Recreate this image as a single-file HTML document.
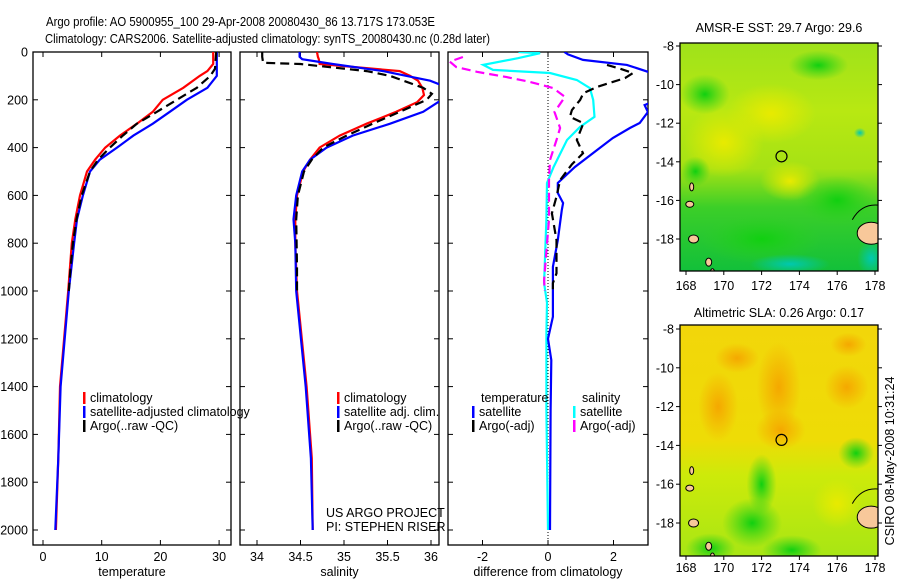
<!DOCTYPE html>
<html><head><meta charset="utf-8"><style>
body{margin:0;background:#fff}
svg{display:block;font-family:"Liberation Sans",sans-serif}
</style></head><body>
<svg id="fig" width="900" height="580" viewBox="0 0 900 580" xmlns="http://www.w3.org/2000/svg">
<defs>
<linearGradient id="g1" x1="0" y1="0" x2="0" y2="1">
<stop offset="0" stop-color="#9fe21a"/><stop offset="0.3" stop-color="#b8e812"/><stop offset="0.55" stop-color="#a6e214"/><stop offset="0.72" stop-color="#3ccf28"/><stop offset="1" stop-color="#12c03a"/></linearGradient>
<linearGradient id="g2" x1="0" y1="0" x2="0" y2="1">
<stop offset="0" stop-color="#f2d60a"/><stop offset="0.5" stop-color="#eedc06"/><stop offset="0.65" stop-color="#cdea0a"/><stop offset="1" stop-color="#a8e614"/></linearGradient>
<radialGradient id="or"><stop offset="0" stop-color="#f5a800"/><stop offset="1" stop-color="#f5a800" stop-opacity="0"/></radialGradient>
<radialGradient id="gr"><stop offset="0" stop-color="#10d010"/><stop offset="1" stop-color="#30d020" stop-opacity="0"/></radialGradient>
<radialGradient id="ye"><stop offset="0" stop-color="#e8ea00"/><stop offset="1" stop-color="#e8ea00" stop-opacity="0"/></radialGradient>
<radialGradient id="cy"><stop offset="0" stop-color="#00c8b0"/><stop offset="1" stop-color="#00c8b0" stop-opacity="0"/></radialGradient>
<clipPath id="c1"><rect x="33" y="52" width="198" height="493"/></clipPath>
<clipPath id="c2"><rect x="240" y="52" width="199" height="493"/></clipPath>
<clipPath id="c3"><rect x="448" y="52" width="200" height="493"/></clipPath>
<clipPath id="cm1"><rect x="680" y="43" width="198" height="228"/></clipPath>
<clipPath id="cm2"><rect x="680" y="325" width="198" height="231"/></clipPath>
</defs>
<text x="46" y="26" font-size="13" textLength="389" lengthAdjust="spacingAndGlyphs">Argo profile: AO 5900955_100 29-Apr-2008 20080430_86 13.717S 173.053E</text>
<text x="45" y="43" font-size="13" textLength="445" lengthAdjust="spacingAndGlyphs">Climatology: CARS2006. Satellite-adjusted climatology: synTS_20080430.nc (0.28d later)</text>
<g id="axes"></g>
<g id="maps"></g>
<text transform="translate(894,461) rotate(-90)" text-anchor="middle" font-size="12.5">CSIRO 08-May-2008 10:31:24</text>
</svg>
<script>
// depth levels and profile data
const tDepth=[0,50,80,100,150,200,250,300,350,400,450,500,600,700,800,1000,1200,1400,1700,2000];
const tClim=[29.0,29.0,28.0,26.7,23.9,20.4,18.7,16.0,13.1,10.6,8.9,7.5,6.3,5.5,4.9,4.3,3.6,2.9,2.6,2.2];
const tSat=[29.6,29.6,29.6,29.6,28.0,24.5,21.6,18.7,15.4,12.6,9.7,8.0,6.8,5.8,5.3,4.4,3.7,3.0,2.6,2.1];
const argoTDepth=[0,70,100,150,200,250,300,350,400,450,500,600,700,800,900,1000];
const tArgo=[29.5,29.3,28.5,26.2,22.8,19.4,16.0,13.6,11.4,9.4,8.0,6.6,5.7,5.1,4.7,4.4];
const sDepth=[0,20,30,50,80,100,120,150,180,210,250,300,350,400,450,500,600,700,800,1000,1400,1700,2000];
const sClim=[34.69,34.70,34.71,34.72,35.64,35.76,35.85,35.90,35.92,35.84,35.60,35.26,34.95,34.72,34.61,34.53,34.46,34.44,34.44,34.46,34.57,34.63,34.64];
const sSat=[34.49,34.49,34.52,34.87,35.45,35.72,35.99,36.20,36.25,36.08,35.91,35.53,35.10,34.80,34.61,34.52,34.45,34.42,34.44,34.45,34.56,34.62,34.64];
const argoSDepth=[0,20,45,50,80,100,150,175,200,250,300,350,400,450,500,600,700,900,1000];
const sArgo=[34.06,34.06,34.07,34.50,35.26,35.53,35.91,36.01,35.95,35.64,35.33,35.03,34.76,34.63,34.54,34.47,34.45,34.46,34.46];
// difference panel
const dTSatDepth=[0,10,33,54,83,120,190,222,251,297,318,360,410,481,548,590,632,661,787,899,1108,1200,1289,1500,2000];
const dTSat=[0.5,0.61,1.07,2.41,3.05,3.5,3.5,2.95,3.05,2.8,2.5,1.98,1.5,0.82,0.3,0.3,0.46,0.42,0.3,0.15,0.15,0.0,0.1,0.08,0.06];
const dTArgoDepth=[54,70,88,109,146,172,201,243,271,298,368,424,470,536,605,675,787,926,967,1000];
const dTArgo=[1.8,2.2,2.6,2.35,1.5,1.08,0.98,0.73,0.67,1.08,0.88,1.07,0.73,0.37,0.26,0.12,0.26,0.26,0.15,0.15];
const dSSatDepth=[0,5,26,54,75,88,117,151,201,271,313,368,481,548,700,967,1050,1176,1500,2000];
const dSSat=[-0.9,-0.24,-0.92,-1.98,-1.68,0.06,0.88,1.28,1.38,1.42,0.98,0.58,0.17,-0.03,-0.05,-0.12,-0.03,-0.05,-0.05,0.0];
const dSArgoDepth=[21,40,63,83,105,125,151,188,251,318,368,452,536,700,954,1000];
const dSArgo=[-2.6,-3.0,-2.8,-2.17,-1.26,-0.55,0.16,0.52,0.2,0.37,0.26,0.06,0.03,0.03,-0.12,-0.1];
const depthTicks=[0,200,400,600,800,1000,1200,1400,1600,1800,2000];
const tTicks=[0,10,20,30];
const sTicks=[34,34.5,35,35.5,36];
const dTicks=[-2,0,2];
const lonTicks=[168,170,172,174,176,178];
const latTicks=[-8,-10,-12,-14,-16,-18];

const NS="http://www.w3.org/2000/svg";
const axes=document.getElementById('axes'), maps=document.getElementById('maps');
function mk(tag,attrs,parent){const e=document.createElementNS(NS,tag);for(const k in attrs)e.setAttribute(k,attrs[k]);parent.appendChild(e);return e;}
const yD=d=>52+d*0.239;
const panels=[
 {x0:33,x1:231,clip:'c1',vx:v=>43+v*5.87,ticks:tTicks,label:'temperature',name:'temperature-panel'},
 {x0:240,x1:439,clip:'c2',vx:v=>257+(v-34)*87,ticks:sTicks,label:'salinity',name:'salinity-panel'},
 {x0:448,x1:648,clip:'c3',vx:v=>548+v*32.75,ticks:dTicks,label:'difference from climatology',name:'difference-panel'}];
panels.forEach((p,i)=>{
 const g=mk('g',{},axes);
 
 
 mk('rect',{x:p.x0,y:52,width:p.x1-p.x0,height:493,fill:'none',stroke:'#000','stroke-width':1.3},g);
 depthTicks.forEach(d=>{
  mk('line',{x1:p.x0,x2:p.x0+5,y1:yD(d),y2:yD(d),stroke:'#000'},g);
  mk('line',{x1:p.x1,x2:p.x1-5,y1:yD(d),y2:yD(d),stroke:'#000'},g);
  if(i==0){const t=mk('text',{x:28,y:yD(d)+4.5,'text-anchor':'end','font-size':12.5},g);t.textContent=d;
   
   }
 });
 p.ticks.forEach(v=>{
  const x=p.vx(v);
  mk('line',{x1:x,x2:x,y1:545,y2:540,stroke:'#000'},g);
  mk('line',{x1:x,x2:x,y1:52,y2:57,stroke:'#000'},g);
  const t=mk('text',{x:x,y:561,'text-anchor':'middle','font-size':12.5},g);t.textContent=v;
  
  
 });
 const t=mk('text',{x:(p.x0+p.x1)/2,y:576,'text-anchor':'middle','font-size':12.5},g);t.textContent=p.label;
 
 
});
function line(pi,depths,vals,color,dash,name){
 const p=panels[pi];
 const pts=depths.map((d,k)=>p.vx(vals[k]).toFixed(1)+','+yD(d).toFixed(1)).join(' ');
 const e=mk('polyline',{points:pts,fill:'none',stroke:color,'stroke-width':2.2,'clip-path':'url(#'+p.clip+')'},axes);
 if(dash)e.setAttribute('stroke-dasharray','9,5');
 
 
}
line(0,tDepth,tClim,'#f00',false,'temp-climatology-line');
line(0,tDepth,tSat,'#00f',false,'temp-satellite-line');
line(0,argoTDepth,tArgo,'#000',true,'temp-argo-line');
line(1,sDepth,sClim,'#f00',false,'sal-climatology-line');
line(1,sDepth,sSat,'#00f',false,'sal-satellite-line');
line(1,argoSDepth,sArgo,'#000',true,'sal-argo-line');
const zl=mk('line',{x1:548,x2:548,y1:52,y2:545,stroke:'#000','stroke-dasharray':'1,2'},axes);


line(2,dSSatDepth,dSSat,'#0ff',false,'diff-sal-satellite-line');
line(2,dSArgoDepth,dSArgo,'#f0f',true,'diff-sal-argo-line');
line(2,dTSatDepth,dTSat,'#00f',false,'diff-temp-satellite-line');
line(2,dTArgoDepth,dTArgo,'#000',true,'diff-temp-argo-line');
function legend(x,y,color,label){
 const g=mk('g',{},axes);
 
 
 mk('rect',{x:x,y:y-10,width:2.5,height:12,fill:color},g);
 const t=mk('text',{x:x+7,y:y,'font-size':12.5},g);t.textContent=label;
}
legend(83,402,'#f00','climatology');legend(83,416,'#00f','satellite-adjusted climatology');legend(83,430,'#000','Argo(..raw -QC)');
legend(337,402,'#f00','climatology');legend(337,416,'#00f','satellite adj. clim.');legend(337,430,'#000','Argo(..raw -QC)');
(function(){const t=mk('text',{x:481,y:402,'font-size':12.5},axes);t.textContent='temperature';
 
 
 const s=mk('text',{x:582,y:402,'font-size':12.5},axes);s.textContent='salinity';
 
 })();
legend(472,416,'#00f','satellite');legend(472,430,'#000','Argo(-adj)');
legend(573,416,'#0ff','satellite');legend(573,430,'#f0f','Argo(-adj)');
(function(){const a=mk('text',{x:326,y:517,'font-size':12.5},axes);a.textContent='US ARGO PROJECT';
 
 
 const b=mk('text',{x:326,y:531,'font-size':12.5},axes);b.textContent='PI: STEPHEN RISER';
 
 })();

// maps
const mapDefs=[
 {y0:43,y1:271,latY:l=>46+(-8-l)*19.3,grad:'g1',clip:'cm1',title:'AMSR-E SST: 29.7 Argo: 29.6',ty:32,ly:290,name:'sst-map',
  blobs:[['ye',172.5,-11.5,45,30],['ye',170,-13,40,35],['ye',173.5,-15,30,20],['gr',169,-10.5,25,20],['gr',175,-9,30,15],['gr',172,-18,60,25],['gr',176,-16,40,25],['cy',173.5,-19.3,40,10],['cy',177.8,-19,14,18],['cy',177.2,-12.5,6,5],['gr',168.5,-14.5,15,15]]},
 {y0:325,y1:556,latY:l=>329+(-8-l)*19.4,grad:'g2',clip:'cm2',title:'Altimetric SLA: 0.26 Argo: 0.17',ty:317,ly:572,name:'sla-map',
  blobs:[['or',172.9,-11,22,45],['or',169.7,-12,20,35],['or',170.7,-9.5,22,15],['or',176.5,-11,22,22],['or',176.6,-8.8,18,12],['or',173,-13.2,25,20],['gr',171.5,-18,30,25],['gr',173.6,-19.4,30,15],['gr',177,-14.4,18,16],['gr',172,-16,15,30],['gr',169.3,-19.3,25,15],['ye',176,-17,25,25]]}];
mapDefs.forEach(m=>{
 const g=mk('g',{},maps);
 
 
 const lx=l=>686+(l-168)*18.9;
 const cg=mk('g',{'clip-path':'url(#'+m.clip+')'},g);
 mk('rect',{x:680,y:m.y0,width:198,height:m.y1-m.y0,fill:'url(#'+m.grad+')'},cg);
 m.blobs.forEach(b=>{mk('ellipse',{cx:lx(b[1]),cy:m.latY(b[2]),rx:b[3],ry:b[4],fill:'url(#'+b[0]+')'},cg);});
 mk('ellipse',{cx:lx(177.8),cy:m.latY(-17.7),rx:14,ry:11,fill:'#f8c89a',stroke:'#000','stroke-width':1},cg);
 mk('path',{d:'M'+lx(176.8)+' '+m.latY(-17)+' q10 -18 30 -14',fill:'none',stroke:'#000'},cg);
 [[168.4,-18,5,4],[169.2,-19.2,3,4],[168.2,-16.2,4,3],[168.3,-15.3,2,4],[169.4,-19.7,2,3]].forEach(c=>{
  mk('ellipse',{cx:lx(c[0]),cy:m.latY(c[1]),rx:c[2],ry:c[3],fill:'#f8c89a',stroke:'#000','stroke-width':1},cg);});
 const mk1=mk('circle',{cx:lx(173.053),cy:m.latY(-13.717),r:5.5,fill:'none',stroke:'#000','stroke-width':1.2},g);
 
 
 mk('rect',{x:680,y:m.y0,width:198,height:m.y1-m.y0,fill:'none',stroke:'#000','stroke-width':1.3},g);
 lonTicks.forEach(l=>{
  mk('line',{x1:lx(l),x2:lx(l),y1:m.y1,y2:m.y1+4,stroke:'#000'},g);
  const t=mk('text',{x:lx(l),y:m.ly,'text-anchor':'middle','font-size':12.5},g);t.textContent=l;
  
  
 });
 latTicks.forEach(l=>{
  const y=m.latY(l);
  mk('line',{x1:676,x2:680,y1:y,y2:y,stroke:'#000'},g);
  mk('line',{x1:878,x2:882,y1:y,y2:y,stroke:'#000'},g);
  const t=mk('text',{x:674,y:y+4.5,'text-anchor':'end','font-size':12.5},g);t.textContent=l;
  
  
 });
 const tt=mk('text',{x:779,y:m.ty,'text-anchor':'middle','font-size':12.5},g);tt.textContent=m.title;
 
 
});
</script>
</body></html>
